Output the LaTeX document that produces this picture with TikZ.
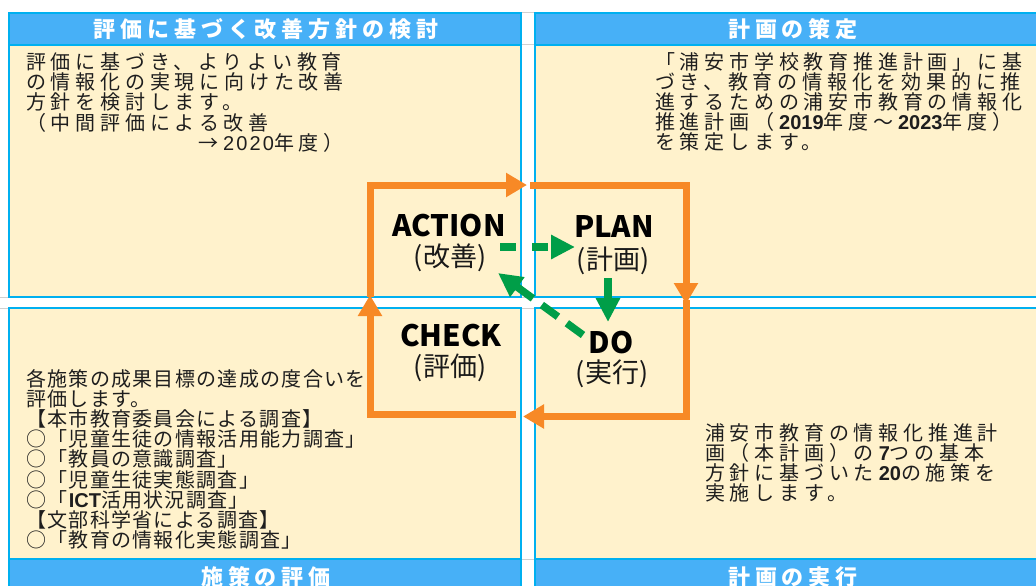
\documentclass[tikz,border=0pt]{standalone}
\usepackage{fontspec}
\setmainfont{Noto Sans CJK JP}
\newfontfamily\jpbody[LetterSpace=24]{Noto Sans CJK JP}
\newfontfamily\jpbodyb[LetterSpace=6.5]{Noto Sans CJK JP}
\newfontfamily\jphead[LetterSpace=22]{Noto Sans CJK JP}
\newfontfamily\lat{Liberation Sans}
\newfontfamily\latls[LetterSpace=11]{Liberation Sans}
\newcommand{\gapA}{\hspace{4.8pt}}
\newcommand{\gapB}{\hspace{1.3pt}}
\usetikzlibrary{arrows.meta}
\definecolor{bordc}{RGB}{0,176,240}
\definecolor{headc}{RGB}{71,176,247}
\definecolor{panelc}{RGB}{255,242,204}
\definecolor{gridc}{RGB}{208,208,208}
\definecolor{orangec}{RGB}{247,137,38}
\definecolor{greenc}{RGB}{0,158,72}
\definecolor{txtc}{RGB}{30,30,30}
\tikzset{
  panelbox/.style={fill=panelc, draw=bordc, line width=2pt},
  headbar/.style={fill=headc},
  headline/.style={draw=bordc, line width=2pt},
  gridline/.style={draw=gridc, line width=1pt},
  headtxt/.style={inner sep=0pt, text=white, font=\jphead\bfseries\fontsize{22}{24}\selectfont},
  bodytxt/.style={anchor=base west, inner sep=0pt, text=txtc, font=\jpbody\fontsize{20}{22}\selectfont},
  bodytxtb/.style={anchor=base west, inner sep=0pt, text=txtc, font=\jpbodyb\fontsize{20}{22}\selectfont},
  lblen/.style={inner sep=0pt, text=black, font=\bfseries\fontsize{29.5}{30}\selectfont},
  lbljp/.style={inner sep=0pt, text=black!90, font=\fontsize{27}{27}\selectfont},
  orangearrow/.style={draw=orangec, line width=7pt, line join=miter, -{Triangle[length=21pt,width=23pt]}},
  greenarrow/.style={draw=greenc, line width=7.5pt, -{Triangle[length=24pt,width=23pt]}}
}
\begin{document}
\begin{tikzpicture}[x=1pt,y=-1pt]
\useasboundingbox (0,0) rectangle (1036,586);
\clip (0,0) rectangle (1036,586);
\fill[white] (0,0) rectangle (1036,586);
% grid lines of the sheet
\draw[gridline] (0,297.5) -- (1036,297.5);
\draw[gridline] (0,308.5) -- (1036,308.5);
\draw[gridline] (521,13) -- (535,13);
\draw[gridline] (521,45) -- (535,45);
\draw[gridline] (521,559) -- (535,559);
% panels
\path[panelbox] (9,13) rectangle (521,297);
\path[headbar] (9,13) rectangle (521,45);
\draw[headline] (9,13) rectangle (521,297);
\draw[headline] (9,45) -- (521,45);
\path[panelbox] (535,13) rectangle (1060,297);
\path[headbar] (535,13) rectangle (1060,45);
\draw[headline] (535,13) rectangle (1060,297);
\draw[headline] (535,45) -- (1060,45);
\path[panelbox] (9,308) rectangle (521,620);
\path[headbar] (9,559) rectangle (521,620);
\draw[headline] (9,308) rectangle (521,620);
\draw[headline] (9,559) -- (521,559);
\path[panelbox] (535,308) rectangle (1060,620);
\path[headbar] (535,559) rectangle (1060,620);
\draw[headline] (535,308) rectangle (1060,620);
\draw[headline] (535,559) -- (1060,559);
% headers
\node[headtxt] (h1) at (266,29) {評価に基づく改善方針の検討};
\node[headtxt] (h2) at (793,29) {計画の策定};
\node[headtxt] (h3) at (266,577) {施策の評価};
\node[headtxt] (h4) at (793,577) {計画の実行};
% top-left text
\foreach \s [count=\i from 0] in {評価に基づき、よりよい教育,の情報化の実現に向けた改善,方針を検討します。,（中間評価による改善}
  \node[bodytxt, name=tl\i] at (26,69.5+20.2*\i) {\s};
\node[bodytxt] (tl4) at (198,150.3) {→\gapA{\latls 2020}年度）};
% top-right text
\foreach \s [count=\i from 0] in {「浦安市学校教育推進計画」に基,づき、教育の情報化を効果的に推,進するための浦安市教育の情報化,{推進計画（\gapA{\lat\bfseries 2019}年度～\gapA{\lat\bfseries 2023}年度）},を策定します。}
  \node[bodytxt, name=tr\i] at (655,69.5+20*\i) {\s};
% bottom-left text
\foreach \s [count=\i from 0] in {各施策の成果目標の達成の度合いを,評価します。,【本市教育委員会による調査】,○「児童生徒の情報活用能力調査」,○「教員の意識調査」,○「児童生徒実態調査」,{○「\gapB{\lat\bfseries ICT}活用状況調査」},【文部科学省による調査】,○「教育の情報化実態調査」}
  \node[bodytxtb, name=bl\i] at (26,386.5+20.1*\i) {\s};
% bottom-right text
\foreach \s [count=\i from 0] in {浦安市教育の情報化推進計,{画（本計画）の\gapA{\lat\bfseries 7}つの基本},{方針に基づいた\gapA{\lat\bfseries 20}の施策を},実施します。}
  \node[bodytxt, name=br\i] at (705,440+20*\i) {\s};
% cycle labels
\node[lblen] (action) at (449,226) {ACTION};
\node[lbljp] (actionj) at (450,258) {(改善)};
\node[lblen] (plan) at (614,227) {PLAN};
\node[lbljp] (planj) at (613,261) {(計画)};
\node[lblen] (check) at (451,336) {CHECK};
\node[lbljp] (checkj) at (450,368) {(評価)};
\node[lblen] (do) at (611,343) {DO};
\node[lbljp] (doj) at (612,374) {(実行)};
% orange cycle
\coordinate (o1s) at (370,297);
\coordinate (o1e) at (527,185);
\coordinate (o2s) at (530,185);
\coordinate (o2e) at (686,304);
\coordinate (o3s) at (686,300);
\coordinate (o3e) at (523,416.5);
\coordinate (o4s) at (516,414.5);
\coordinate (o4e) at (370,295);
\draw[orangearrow] (o1s) |- (o1e);
\draw[orangearrow] (o2s) -| (o2e);
\draw[orangearrow] (o3s) |- (o3e);
\draw[orangearrow] (o4s) -| (o4e);
% green arrows
\coordinate (g1s) at (500,247);
\coordinate (g1e) at (575,247);
\coordinate (g2s) at (608,278);
\coordinate (g2e) at (608,322);
\coordinate (g3s) at (583,335);
\coordinate (g3e) at (498,273);
\draw[greenarrow, dash pattern=on 16pt off 16pt] (g1s) -- (g1e);
\draw[greenarrow] (g2s) -- (g2e);
\draw[greenarrow, dash pattern=on 20pt off 11pt] (g3s) -- (g3e);
\end{tikzpicture}
\end{document}
